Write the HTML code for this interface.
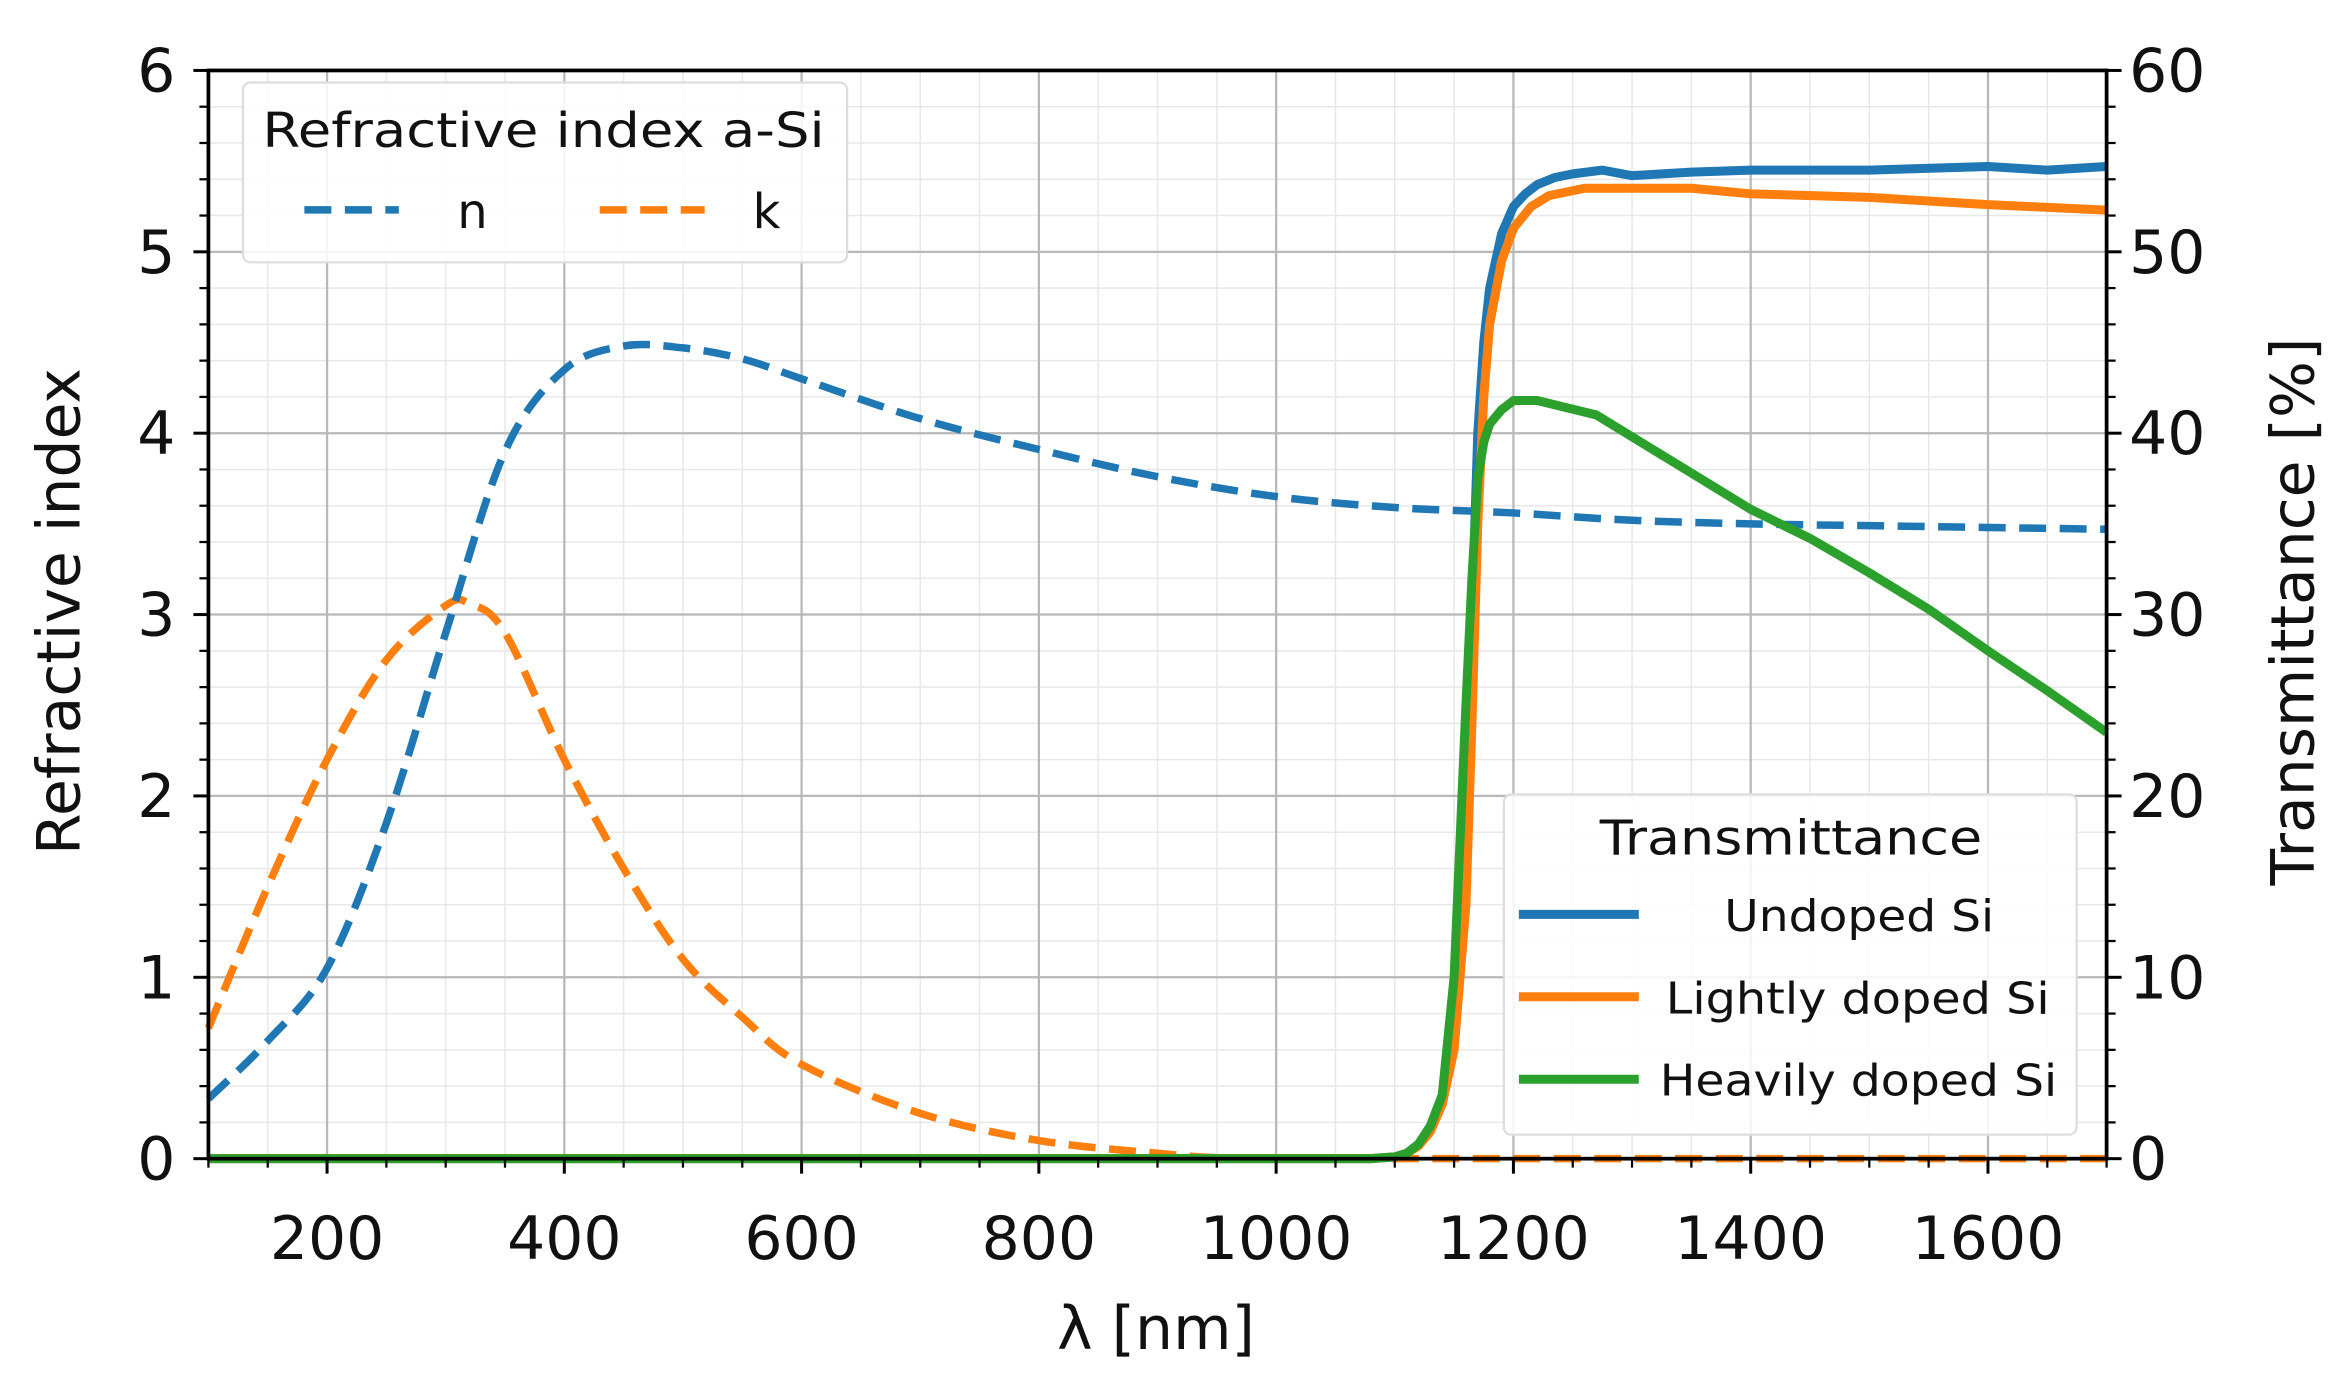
<!DOCTYPE html>
<html><head><meta charset="utf-8"><style>
html,body{margin:0;padding:0;background:#fff;}
svg{display:block;}
text{font-family:"DejaVu Sans","Liberation Sans",sans-serif;fill:#111;}
</style></head><body>
<svg id="s" width="2351" height="1394" viewBox="0 0 1568 930" preserveAspectRatio="none" xmlns="http://www.w3.org/2000/svg">
<g id="grid"></g>
<g id="data"></g>
<g id="axes"></g>
<g id="leg"></g>
</svg>
<script>
const NS="http://www.w3.org/2000/svg";
const L=139,R=1405,T=47,B=773;
const X=l=>L+(l-100)*(R-L)/1600;
const Y=v=>B-v*(B-T)/6;
const YT=t=>Y(t/10);
function el(p,tag,a,txt){const e=document.createElementNS(NS,tag);for(const k in a)e.setAttribute(k,a[k]);if(txt!==undefined)e.textContent=txt;document.getElementById(p).appendChild(e);return e;}
for(let l=100;l<=1700;l+=50){if(l%200!==0)el('grid','line',{x1:X(l),x2:X(l),y1:T,y2:B,stroke:'#e8e8e8','stroke-width':1});}
for(let v=0;v<=6.001;v+=0.2){if(Math.abs(v-Math.round(v))>0.01)el('grid','line',{x1:L,x2:R,y1:Y(v),y2:Y(v),stroke:'#e8e8e8','stroke-width':1});}
for(let l=200;l<=1600;l+=200)el('grid','line',{x1:X(l),x2:X(l),y1:T,y2:B,stroke:'#b8b8b8','stroke-width':1.5});
for(let v=1;v<=6;v++)el('grid','line',{x1:L,x2:R,y1:Y(v),y2:Y(v),stroke:'#b8b8b8','stroke-width':1.5});
function path(pts,fy){let p=pts.map(q=>[X(q[0]),fy(q[1])]);let d='M'+p[0][0]+','+p[0][1];
for(let i=0;i<p.length-1;i++){const p0=p[Math.max(0,i-1)],p1=p[i],p2=p[i+1],p3=p[Math.min(p.length-1,i+2)];
const c1=[p1[0]+(p2[0]-p0[0])/6,p1[1]+(p2[1]-p0[1])/6],c2=[p2[0]-(p3[0]-p1[0])/6,p2[1]-(p3[1]-p1[1])/6];
d+=` C${c1[0].toFixed(1)},${c1[1].toFixed(1)} ${c2[0].toFixed(1)},${c2[1].toFixed(1)} ${p2[0].toFixed(1)},${p2[1].toFixed(1)}`;}return d;}
function lin(pts,fy){return 'M'+pts.map(q=>X(q[0]).toFixed(1)+','+fy(q[1]).toFixed(1)).join(' L');}
const n=[[100,0.33],[150,0.65],[200,1.05],[250,1.85],[300,2.9],[350,3.9],[400,4.35],[450,4.48],[500,4.47],[550,4.41],[600,4.3],[700,4.08],[800,3.91],[900,3.76],[1000,3.65],[1100,3.59],[1200,3.56],[1300,3.52],[1400,3.5],[1500,3.49],[1700,3.47]];
const k=[[100,0.72],[150,1.5],[200,2.2],[250,2.75],[300,3.05],[320,3.06],[350,2.9],[400,2.2],[450,1.6],[500,1.1],[550,0.78],[600,0.52],[700,0.25],[800,0.1],[900,0.03],[950,0.005],[1000,0.0],[1100,0],[1700,0.0]];
const tu=[[100,0],[1080,0],[1100,0.1],[1110,0.3],[1120,0.8],[1130,1.8],[1140,3.5],[1150,8],[1160,20],[1165,30],[1170,40],[1175,45],[1180,48],[1190,51],[1200,52.5],[1210,53.2],[1220,53.7],[1235,54.1],[1250,54.3],[1275,54.5],[1300,54.2],[1350,54.4],[1400,54.5],[1500,54.5],[1600,54.7],[1650,54.5],[1700,54.7]];
const tl=[[100,0],[1080,0],[1100,0.1],[1110,0.3],[1120,0.7],[1130,1.5],[1140,3],[1150,6],[1160,14],[1165,24],[1170,35],[1175,42],[1180,46],[1190,49.5],[1200,51.3],[1215,52.5],[1230,53.1],[1260,53.5],[1350,53.5],[1400,53.2],[1500,53],[1600,52.6],[1700,52.3]];
const th=[[100,0],[1080,0],[1100,0.1],[1110,0.3],[1120,0.8],[1130,1.8],[1140,3.5],[1150,10],[1160,25],[1165,32],[1170,37.5],[1175,39.5],[1180,40.5],[1190,41.3],[1200,41.8],[1220,41.8],[1270,41],[1300,39.8],[1350,37.8],[1400,35.8],[1450,34.2],[1500,32.3],[1550,30.3],[1600,28],[1650,25.8],[1700,23.5]];
el('data','path',{d:path(k,Y),fill:'none',stroke:'#ff7f0e','stroke-width':5,'stroke-dasharray':'18,9'});
el('data','path',{d:path(n,Y),fill:'none',stroke:'#1f77b4','stroke-width':5,'stroke-dasharray':'18,9'});
el('data','path',{d:lin(tu,YT),fill:'none',stroke:'#1f77b4','stroke-width':6,'stroke-linejoin':'round'});
el('data','path',{d:lin(tl,YT),fill:'none',stroke:'#ff7f0e','stroke-width':6,'stroke-linejoin':'round'});
el('data','path',{d:lin(th,YT),fill:'none',stroke:'#2ca02c','stroke-width':6,'stroke-linejoin':'round'});
el('axes','rect',{x:L,y:T,width:R-L,height:B-T,fill:'none',stroke:'#000','stroke-width':2.5});
for(let l=200;l<=1600;l+=200){el('axes','line',{x1:X(l),x2:X(l),y1:B,y2:B+10,stroke:'#000','stroke-width':2});el('axes','text',{x:X(l),y:840,'font-size':40,'text-anchor':'middle'},l);}
for(let l=100;l<=1700;l+=50){if(l%200)el('axes','line',{x1:X(l),x2:X(l),y1:B,y2:B+6,stroke:'#000','stroke-width':1.5});}
for(let v=0;v<=6;v++){el('axes','line',{x1:L-10,x2:L,y1:Y(v),y2:Y(v),stroke:'#000','stroke-width':2});el('axes','text',{x:117,y:Y(v)+14,'font-size':40,'text-anchor':'end'},v);
el('axes','line',{x1:R,x2:R+10,y1:Y(v),y2:Y(v),stroke:'#000','stroke-width':2});el('axes','text',{x:1420,y:Y(v)+14,'font-size':40},v*10);}
for(let v=0;v<6;v+=0.2){if(Math.abs(v-Math.round(v))>0.01){el('axes','line',{x1:L-6,x2:L,y1:Y(v),y2:Y(v),stroke:'#000','stroke-width':1.5});el('axes','line',{x1:R,x2:R+6,y1:Y(v),y2:Y(v),stroke:'#000','stroke-width':1.5});}}
el('axes','text',{x:771,y:900,'font-size':40,'text-anchor':'middle'},'λ [nm]');
el('axes','text',{x:0,y:0,'font-size':40,'text-anchor':'middle',transform:'translate(53,408) rotate(-90)'},'Refractive index');
el('axes','text',{x:0,y:0,'font-size':40,'text-anchor':'middle',transform:'translate(1543,408) rotate(-90)'},'Transmittance [%]');
el('leg','rect',{x:162,y:55,width:403,height:120,rx:5,fill:'#fff','fill-opacity':0.85,stroke:'#ddd','stroke-width':1.5});
el('leg','text',{x:175,y:98,'font-size':32,textLength:375,lengthAdjust:'spacingAndGlyphs'},'Refractive index a-Si');
el('leg','line',{x1:203,x2:266,y1:140,y2:140,stroke:'#1f77b4','stroke-width':5,'stroke-dasharray':'18,9'});
el('leg','line',{x1:400,x2:470,y1:140,y2:140,stroke:'#ff7f0e','stroke-width':5,'stroke-dasharray':'18,9'});
el('leg','text',{x:305,y:152,'font-size':32},'n');
el('leg','text',{x:502,y:152,'font-size':32},'k');
el('leg','rect',{x:1003,y:530,width:382,height:227,rx:5,fill:'#fff','fill-opacity':0.85,stroke:'#ddd','stroke-width':1.5});
el('leg','text',{x:1067,y:570,'font-size':32,textLength:255,lengthAdjust:'spacingAndGlyphs'},'Transmittance');
const items=[['#1f77b4','Undoped Si',1150,180,610],['#ff7f0e','Lightly doped Si',1111,256,665],['#2ca02c','Heavily doped Si',1107,265,720]];
for(const it of items){el('leg','line',{x1:1013,x2:1093,y1:it[4],y2:it[4],stroke:it[0],'stroke-width':6});el('leg','text',{x:it[2],y:it[4]+11,'font-size':29,textLength:it[3],lengthAdjust:'spacingAndGlyphs'},it[1]);}
</script>
</body></html>
